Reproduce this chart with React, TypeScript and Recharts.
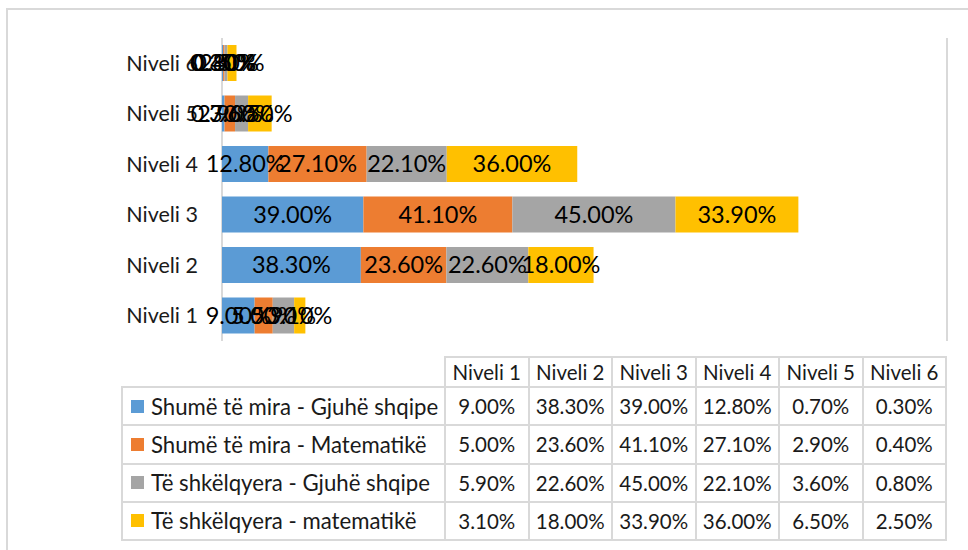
import React from 'react';
import { BarChart, Bar, XAxis, YAxis, CartesianGrid, LabelList } from 'recharts';

const categories = ['Niveli 1', 'Niveli 2', 'Niveli 3', 'Niveli 4', 'Niveli 5', 'Niveli 6'];
const seriesNames = [
  'Shumë të mira - Gjuhë shqipe',
  'Shumë të mira - Matematikë',
  'Të shkëlqyera - Gjuhë shqipe',
  'Të shkëlqyera - matematikë',
];
const veryGoodAlbanian = [9.0, 38.3, 39.0, 12.8, 0.7, 0.3];
const veryGoodMath = [5.0, 23.6, 41.1, 27.1, 2.9, 0.4];
const excellentAlbanian = [5.9, 22.6, 45.0, 22.1, 3.6, 0.8];
const excellentMath = [3.1, 18.0, 33.9, 36.0, 6.5, 2.5];
const seriesColors = ['#5B9BD5', '#ED7D31', '#A5A5A5', '#FFC000'];
const xTicks = [0, 50, 100, 150, 200];

const seriesValues = [veryGoodAlbanian, veryGoodMath, excellentAlbanian, excellentMath];
const seriesKeys = ['s0', 's1', 's2', 's3'];

const data = categories.map((name, i) => {
  const row: any = { name };
  seriesKeys.forEach((k, s) => {
    row[k] = seriesValues[s][i];
  });
  return row;
});

const fmt = (v: any) => `${Number(v).toFixed(2)}%`;
const FONT = 'Lato, "Open Sans", sans-serif';

// table geometry
const tableLeft = 122;
const legendColRight = 445;
const colW = 83.5;
const headerTop = 357;
const headerH = 30;
const rowH = 38.25;
const borderC = '#d9d9d9';

function Cell({ x, y, w, h, children, align = 'center', pad = 0, fontSize = 20.5 }: any) {
  return (
    <div
      style={{
        position: 'absolute',
        left: x - 1,
        top: y - 1,
        width: w + 2,
        height: h + 2,
        boxSizing: 'border-box',
        border: `2px solid ${borderC}`,
        display: 'flex',
        alignItems: 'center',
        justifyContent: align === 'center' ? 'center' : 'flex-start',
        paddingLeft: pad,
        fontSize,
        color: '#1a1a1a',
        whiteSpace: 'nowrap',
        fontFamily: FONT,
      }}
    >
      {children}
    </div>
  );
}

export default function App() {
  return (
    <div style={{ position: 'absolute', left: 0, top: 0, width: 968, height: 550, background: '#fff', fontFamily: FONT, overflow: 'hidden' }}>
      <div
        style={{
          position: 'absolute',
          left: 6,
          top: 8,
          width: 980,
          height: 560,
          borderLeft: `2px solid ${borderC}`,
          borderTop: `2px solid ${borderC}`,
        }}
      />
      <div style={{ position: 'absolute', left: 0, top: 0 }}>
        <BarChart
          width={968}
          height={550}
          data={data}
          layout="vertical"
          margin={{ top: 38, right: 21, bottom: 209, left: 0 }}
          barSize={36}
        >
          <CartesianGrid horizontal={false} stroke={borderC} strokeWidth={2} />
          <XAxis type="number" domain={[0, 200]} ticks={xTicks} tick={false} axisLine={false} tickLine={false} height={0} />
          <YAxis
            type="category"
            dataKey="name"
            reversed
            width={222}
            axisLine={false}
            tickLine={false}
            tickSize={0}
            tickMargin={24}
            tick={{ fill: '#1a1a1a', fontSize: 21.5, fontFamily: FONT }}
          />
          {seriesKeys.map((k, s) => (
            <Bar key={k} dataKey={k} stackId="a" fill={seriesColors[s]} isAnimationActive={false}>
              <LabelList dataKey={k} position="center" formatter={fmt} fill="#000" fontSize={23.5} fontFamily={FONT} />
            </Bar>
          ))}
        </BarChart>
      </div>
      {categories.map((c, i) => (
        <Cell key={'h' + i} x={legendColRight + i * colW} y={headerTop} w={colW} h={headerH}>
          {c}
        </Cell>
      ))}
      {seriesNames.map((n, s) => (
        <React.Fragment key={'r' + s}>
          <Cell x={tableLeft} y={headerTop + headerH + s * rowH} w={legendColRight - tableLeft} h={rowH} align="left" pad={8} fontSize={22.2}>
            <span style={{ display: 'inline-block', width: 13, height: 13, background: seriesColors[s], marginRight: 7 }} />
            {n}
          </Cell>
          {seriesValues[s].map((v, i) => (
            <Cell key={'c' + s + i} x={legendColRight + i * colW} y={headerTop + headerH + s * rowH} w={colW} h={rowH}>
              {fmt(v)}
            </Cell>
          ))}
        </React.Fragment>
      ))}
    </div>
  );
}
